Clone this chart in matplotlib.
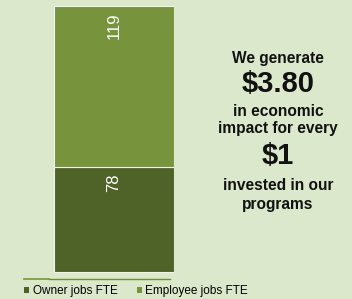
import matplotlib
matplotlib.use("Agg")
from matplotlib import pyplot as plt
from matplotlib.patches import Patch

series = ["Owner jobs FTE", "Employee jobs FTE"]
values = [78, 119]
colors = ["#4f6228", "#77933c"]
bg = "#dce8cb"

plt.rcParams['font.family'] = ['Liberation Sans', 'DejaVu Sans']

fig = plt.figure(figsize=(3.52, 2.99), dpi=100)
fig.patch.set_facecolor(bg)

W, H = 352.0, 299.0
ax = fig.add_axes([24 / W, (H - 279) / H, 150 / W, 273 / H])
ax.set_facecolor(bg)
ax.set_xlim(0, 1)
ax.set_ylim(-5.2, 197)

bottom = 0
for name, v, c in zip(series, values, colors):
    ax.bar(0.6, v, width=0.8, bottom=bottom, color=c, edgecolor="#f2f2f2", linewidth=0.8)
    ax.text(0.6, bottom + v - 5, str(v), rotation=90, color="white",
            ha="center", va="top", fontsize=12)
    bottom += v

for s in ax.spines.values():
    s.set_visible(False)
ax.set_xticks([])
ax.set_yticks([])
ax.plot([0, 25 / 150], [0, 0], transform=ax.transAxes, color="#7fa03c", lw=1.3, clip_on=False)
ax.plot([25 / 150, 146 / 150], [0, 0], transform=ax.transAxes, color="#6f8e32", lw=1.0, clip_on=False)

cx = 278 / W
lines = [("We generate", 11.2, 58), ("$3.80", 21, 84), ("in economic", 11.2, 111),
         ("impact for every", 11.2, 129), ("$1", 21, 156), ("invested in our", 11.2, 186),
         ("programs", 11.2, 204)]
for t, fs, y in lines:
    fig.text(cx, 1 - y / H, t, ha="center", va="center", fontsize=fs,
             fontweight="bold", color="#111111")

handles = [Patch(facecolor=c, edgecolor="none") for c in colors]
fig.legend(handles, series, loc="center left", bbox_to_anchor=(24 / W, 1 - 291 / H),
           ncol=2, frameon=False, fontsize=8.5, handlelength=0.45, handleheight=0.45,
           handletextpad=0.3, columnspacing=1.6, borderaxespad=0, borderpad=0)

fig.savefig("out.png", dpi=100, facecolor=bg)
